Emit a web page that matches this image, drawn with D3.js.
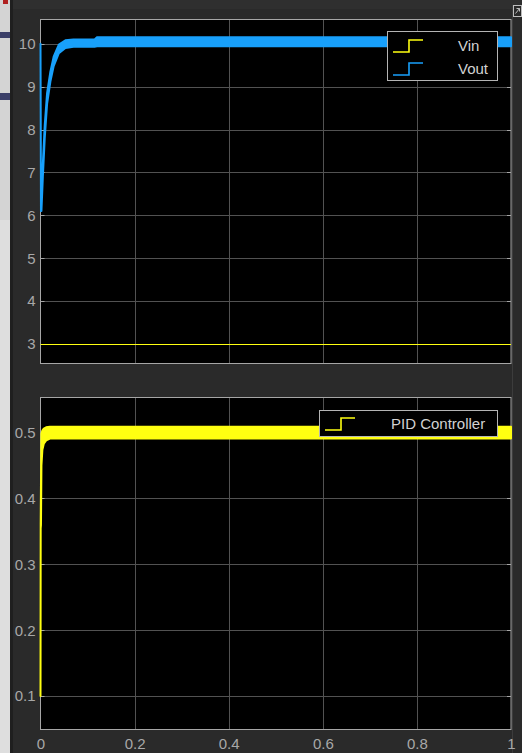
<!DOCTYPE html>
<html>
<head>
<meta charset="utf-8">
<script src="https://cdn.jsdelivr.net/npm/d3@7/dist/d3.min.js"></script>
<style>
  html, body { margin: 0; padding: 0; background: #2a2a2a; }
  svg { display: block; font-family: "Liberation Sans", Arial, sans-serif; }
</style>
</head>
<body>
<svg id="scope" width="522" height="753"></svg>
<script>
// Time base shared by both scope panels (seconds)
const xTicks = [0, 0.2, 0.4, 0.6, 0.8, 1];
const xTickLabels = ["0", "0.2", "0.4", "0.6", "0.8", "1"];

// Upper panel: converter voltages
const voltTicks = [3, 4, 5, 6, 7, 8, 9, 10];
const vinTime = [0, 1];
const vinValue = [3, 3];
// Vout ripple envelope (min / max of the switching ripple)
const voutTime = [0, 0.001, 0.002, 0.005, 0.009, 0.014, 0.021, 0.028, 0.039, 0.053, 0.07, 0.115, 0.12, 0.5, 1.0];
const voutLow  = [10, 6.1, 6.1, 6.9, 7.8, 8.6, 9.12, 9.48, 9.78, 9.9, 9.93, 9.93, 9.94, 9.94, 9.94];
const voutHigh = [10, 6.2, 6.3, 7.2, 8.1, 8.85, 9.35, 9.7, 9.98, 10.08, 10.1, 10.1, 10.15, 10.15, 10.15];

// Lower panel: PID controller output (duty cycle) envelope
const dutyTicks = [0.1, 0.2, 0.3, 0.4, 0.5];
const pidTime = [0, 0.0004, 0.001, 0.002, 0.004, 0.007, 0.012, 0.02, 0.03, 1.0];
const pidLow  = [0.1, 0.355, 0.36, 0.45, 0.474, 0.483, 0.488, 0.491, 0.491, 0.491];
const pidHigh = [0.1, 0.36, 0.42, 0.498, 0.503, 0.506, 0.508, 0.509, 0.509, 0.509];

const C = {
  yellow: "#ffff11",
  blue: "#18a0fb",
  grid: "#525252",
  frame: "#a6a6a6",
  label: "#a8a8a8",
  legendText: "#d2d2d2"
};

const svg = d3.select("#scope");

// Window chrome around the scope
svg.append("rect").attr("x", 0).attr("y", 0).attr("width", 522).attr("height", 753).attr("fill", "#2a2a2a");
svg.append("rect").attr("x", 0).attr("y", 0).attr("width", 10).attr("height", 753).attr("fill", "#d4d4d4");
svg.append("rect").attr("x", 0).attr("y", 220).attr("width", 10).attr("height", 533).attr("fill", "#dedede");
svg.append("rect").attr("x", 10).attr("y", 0).attr("width", 3).attr("height", 753).attr("fill", "#1f1f1f");
svg.append("rect").attr("x", 0).attr("y", 32).attr("width", 10).attr("height", 6).attr("fill", "#3b3f68");
svg.append("rect").attr("x", 0).attr("y", 93).attr("width", 10).attr("height", 7).attr("fill", "#3b3f68");
svg.append("rect").attr("x", 3).attr("y", 0).attr("width", 5).attr("height", 4).attr("fill", "#b02020");
svg.append("rect").attr("x", 13).attr("y", 0).attr("width", 509).attr("height", 9).attr("fill", "#2f2f2f");
svg.append("line").attr("x1", 512.5).attr("x2", 512.5).attr("y1", 5).attr("y2", 753).attr("stroke", "#3c3c3c");
svg.append("rect").attr("x", 513.5).attr("y", 5.5).attr("width", 8).attr("height", 11)
  .attr("fill", "#2a2a2a").attr("stroke", "#bdbdbd");
svg.append("path").attr("d", "M515.5,13.5 L519.5,8.5 M516.5,8.5 L519.5,8.5 L519.5,11.5")
  .attr("fill", "none").attr("stroke", "#bdbdbd");

const x = d3.scaleLinear().domain([0, 1]).range([40.5, 511]);

function panel(top, bottom, yDomain, yTicks, fmt) {
  const y = d3.scaleLinear().domain(yDomain).range([bottom, top]);
  const g = svg.append("g");
  g.append("rect").attr("x", x.range()[0]).attr("y", top)
    .attr("width", x.range()[1] - x.range()[0]).attr("height", bottom - top).attr("fill", "#000");

  // grid
  const grid = g.append("g");
  grid.selectAll("line.v").data(xTicks.slice(1, -1)).join("line")
    .attr("x1", d => Math.round(x(d)) + 0.5).attr("x2", d => Math.round(x(d)) + 0.5)
    .attr("y1", top).attr("y2", bottom).attr("stroke", C.grid);
  grid.selectAll("line.h").data(yTicks).join("line")
    .attr("x1", x.range()[0]).attr("x2", x.range()[1])
    .attr("y1", d => Math.round(y(d)) + 0.5).attr("y2", d => Math.round(y(d)) + 0.5)
    .attr("stroke", C.grid);

  // y tick labels
  const ay = g.append("g").attr("transform", `translate(${x.range()[0]},0)`)
    .call(d3.axisLeft(y).tickValues(yTicks).tickFormat(fmt).tickSize(0).tickPadding(5));
  ay.select(".domain").remove();
  ay.selectAll("text").attr("fill", C.label).style("font-size", "15px")
    .style("font-family", "'Liberation Sans', Arial, sans-serif");

  // frame with inward tick marks
  g.selectAll("line.l").data(yTicks).join("line")
    .attr("x1", x.range()[0]).attr("x2", x.range()[0] + 4)
    .attr("y1", d => Math.round(y(d)) + 0.5).attr("y2", d => Math.round(y(d)) + 0.5)
    .attr("stroke", C.frame);
  g.selectAll("line.r").data(yTicks).join("line")
    .attr("x1", x.range()[1] - 4).attr("x2", x.range()[1])
    .attr("y1", d => Math.round(y(d)) + 0.5).attr("y2", d => Math.round(y(d)) + 0.5)
    .attr("stroke", C.frame);
  g.append("rect").attr("x", x.range()[0]).attr("y", top + 0.5)
    .attr("width", x.range()[1] - x.range()[0]).attr("height", bottom - top)
    .attr("fill", "none").attr("stroke", C.frame);

  return { g, y, top, bottom, yTicks };
}

function envelope(p, t, lo, hi, color) {
  const pts = t.map((d, i) => ({ t: d, lo: lo[i], hi: hi[i] }));
  const area = d3.area().x(d => x(d.t)).y0(d => p.y(d.lo)).y1(d => p.y(d.hi));
  p.g.append("path").datum(pts).attr("d", area)
    .attr("fill", color).attr("stroke", color).attr("stroke-width", 2).attr("stroke-linejoin", "round");
}

function legend(x0, y0, w, h, entries) {
  const g = svg.append("g");
  g.append("rect").attr("x", x0 + 0.5).attr("y", y0 + 0.5).attr("width", w).attr("height", h)
    .attr("fill", "#000").attr("stroke", "#b4b4b4");
  entries.forEach(e => {
    g.append("path")
      .attr("d", `M${e.ix},${e.cy + 6} H${e.ix + 16} V${e.cy - 6} H${e.ix + 30}`)
      .attr("fill", "none").attr("stroke", e.color).attr("stroke-width", 1.6);
    g.append("text").attr("x", e.tx).attr("y", e.cy).attr("dy", "0.36em")
      .attr("fill", C.legendText).style("font-size", "15px").text(e.name);
  });
}

// ---- upper panel ----
const upper = panel(19, 363, [2.557, 10.578], voltTicks, d3.format("d"));
const vin = vinTime.map((d, i) => ({ t: d, v: vinValue[i] }));
upper.g.append("path").datum(vin)
  .attr("d", d3.line().x(d => x(d.t)).y(d => Math.round(upper.y(d.v)) + 0.5))
  .attr("fill", "none").attr("stroke", C.yellow).attr("stroke-width", 1.2);
envelope(upper, voutTime, voutLow, voutHigh, C.blue);
legend(387, 31, 110, 49, [
  { name: "Vin", color: C.yellow, cy: 46, ix: 393, tx: 458 },
  { name: "Vout", color: C.blue, cy: 69, ix: 393, tx: 458 }
]);

// ---- lower panel ----
const lower = panel(397, 729, [0.05, 0.554], dutyTicks, d3.format(".1f"));
envelope(lower, pidTime, pidLow, pidHigh, C.yellow);
legend(319, 410, 178, 26, [
  { name: "PID Controller", color: C.yellow, cy: 424, ix: 325, tx: 391 }
]);

// x tick labels under the lower panel
const ax = svg.append("g").attr("transform", "translate(0,729)")
  .call(d3.axisBottom(x).tickValues(xTicks).tickFormat((d, i) => xTickLabels[i]).tickSize(0).tickPadding(9));
ax.select(".domain").remove();
ax.selectAll("text").attr("fill", C.label).style("font-size", "15px")
  .style("font-family", "'Liberation Sans', Arial, sans-serif");
</script>
</body>
</html>
